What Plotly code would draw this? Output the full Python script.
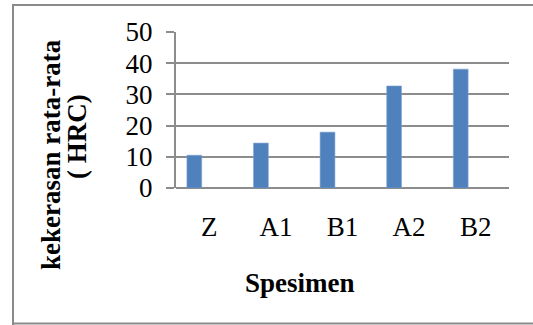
import plotly.graph_objects as go

categories = ["Z", "A1", "B1", "A2", "B2"]
hardness = [10.5, 14.4, 17.9, 32.7, 38.1]
y_ticks = [0, 10, 20, 30, 40, 50]
y_title_line1 = "kekerasan rata-rata"
y_title_line2 = "( HRC)"
x_title = "Spesimen"

W, H = 533, 325
PL, PR, PT, PB = 176, 509, 32, 188  # plot area in window pixels
L, R, T, B = PL, W - PR, PT, H - PB
PW, PH = W - L - R, H - T - B


def px(x):
    return (x - L) / PW


def py(y):
    return (H - B - y) / PH


FONT = "Liberation Serif, Times New Roman, serif"
FS = 27
GRID = "#8c8c8c"
FRAME = "#8a8a8a"

fig = go.Figure()
fig.add_trace(go.Bar(
    x=categories, y=hardness,
    marker=dict(color="#4F81BD", line=dict(color="#7fa3d3", width=0.6)),
    width=0.222, offset=-0.336,
))


def frame_line(x0, y0, x1, y1):
    return dict(type="line", xref="paper", yref="paper",
                x0=px(x0), y0=py(y0), x1=px(x1), y1=py(y1),
                line=dict(color=FRAME, width=2), layer="below")


fig.update_layout(
    width=W, height=H,
    margin=dict(l=L, r=R, t=T, b=B, pad=0),
    paper_bgcolor="white", plot_bgcolor="white",
    showlegend=False,
    font=dict(family=FONT, size=FS, color="black"),
    xaxis=dict(
        type="category", showgrid=False, showline=False, zeroline=False,
        ticks="", ticklabelstandoff=20,
        tickfont=dict(family=FONT, size=FS, color="black"),
    ),
    yaxis=dict(
        range=[0, 50], tickvals=y_ticks, showgrid=True, gridcolor=GRID, gridwidth=2,
        showline=True, linecolor=GRID, linewidth=2, zeroline=True, zerolinecolor=GRID,
        zerolinewidth=2, ticks="outside", ticklen=8, tickcolor=GRID, tickwidth=2,
        ticklabelstandoff=8,
        tickfont=dict(family=FONT, size=FS, color="black"),
    ),
    shapes=[
        frame_line(13, 4, 13, 325),
        frame_line(12, 5, 533, 5),
        frame_line(12, 323.5, 533, 323.5),
    ],
    annotations=[
        dict(text=y_title_line1, xref="paper", yref="paper", x=px(51), y=py(155),
             xanchor="center", yanchor="middle", textangle=-90, showarrow=False,
             font=dict(family=FONT, size=FS, color="black", weight="bold")),
        dict(text=y_title_line2, xref="paper", yref="paper", x=px(77), y=py(137),
             xanchor="center", yanchor="middle", textangle=-90, showarrow=False,
             font=dict(family=FONT, size=FS, color="black", weight="bold")),
        dict(text=x_title, xref="paper", yref="paper", x=px(299.5), y=py(283),
             xanchor="center", yanchor="middle", showarrow=False,
             font=dict(family=FONT, size=FS, color="black", weight="bold")),
    ],
)

fig.write_html(
    "out.html",
    config={"displayModeBar": False},
    post_script="document.body.style.margin='0';document.body.style.overflow='hidden';",
)
